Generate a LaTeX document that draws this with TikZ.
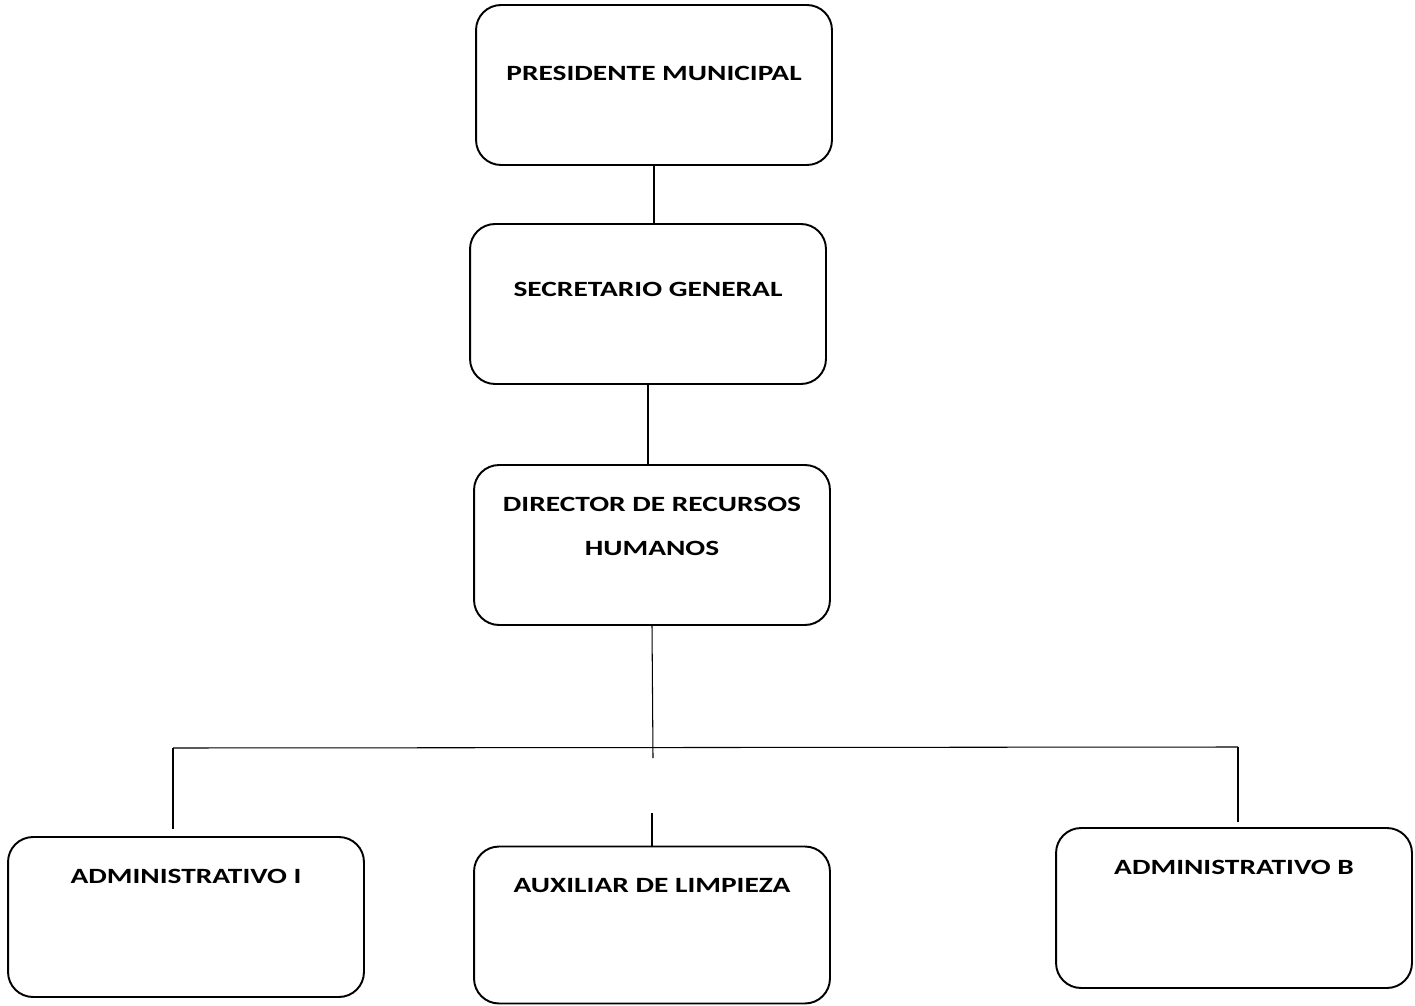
\documentclass[tikz,border=0pt]{standalone}
\usepackage{fontspec}
\setmainfont{Carlito}
\newcommand{\ancho}[1]{\scalebox{1.35}[1]{#1}}

\begin{document}
\begin{tikzpicture}[x=0.02cm, y=-0.02cm,
  cargo/.style={draw, line width=1.1pt, rounded corners=0.5cm, minimum width=7.12cm, minimum height=3.2cm, inner sep=0pt},
  etiqueta/.style={font=\fontsize{12.4}{25}\selectfont\bfseries, align=center, inner sep=0pt},
  linea/.style={line width=0.6pt}]

\useasboundingbox (0,0) rectangle (1415,1006);

% titulo, cortado por el borde superior
\begin{scope}
\clip (0,0) rectangle (1415,1006);
\node[anchor=base west, inner sep=0pt, font=\fontsize{15.7}{19}\selectfont\bfseries] (titulo) at (143,-4) {\ancho{Organigrama}};
\end{scope}

% cajas
\node[cargo, label={[etiqueta, yshift=0.24cm]center:\ancho{PRESIDENTE MUNICIPAL}}] (pres) at (654,85) {};
\node[cargo, label={[etiqueta, yshift=0.29cm]center:\ancho{SECRETARIO GENERAL}}] (sec) at (648,304) {};
\node[cargo, label={[etiqueta, yshift=0.37cm]center:\ancho{DIRECTOR DE RECURSOS}\\\ancho{HUMANOS}}] (dir) at (652,545) {};
\node[cargo, label={[etiqueta, yshift=0.82cm]center:\ancho{ADMINISTRATIVO I}}] (admi) at (186,917) {};
\node[cargo, minimum height=3.14cm, label={[etiqueta, yshift=0.79cm]center:\ancho{AUXILIAR DE LIMPIEZA}}] (aux) at (652,925) {};
\node[cargo, label={[etiqueta, yshift=0.82cm]center:\ancho{ADMINISTRATIVO B}}] (admb) at (1234,908) {};

% puntos libres de las lineas
\coordinate (izq) at (173,748);
\coordinate (der) at (1238,747);
\coordinate (cruce) at (653,758);
\coordinate (izqfin) at (173,829);
\coordinate (derfin) at (1238,822);
\coordinate (auxini) at (652,813);

% lineas
\draw[linea] (pres.south) -- (pres.south |- sec.north);
\draw[linea] (sec.south) -- (sec.south |- dir.north);
\draw[linea] (dir.south) -- (cruce);
\draw[linea] (izq) -- (der);
\draw[linea] (izq) -- (izqfin);
\draw[linea] (der) -- (derfin);
\draw[linea] (auxini) -- (aux.north);

\end{tikzpicture}
\end{document}
